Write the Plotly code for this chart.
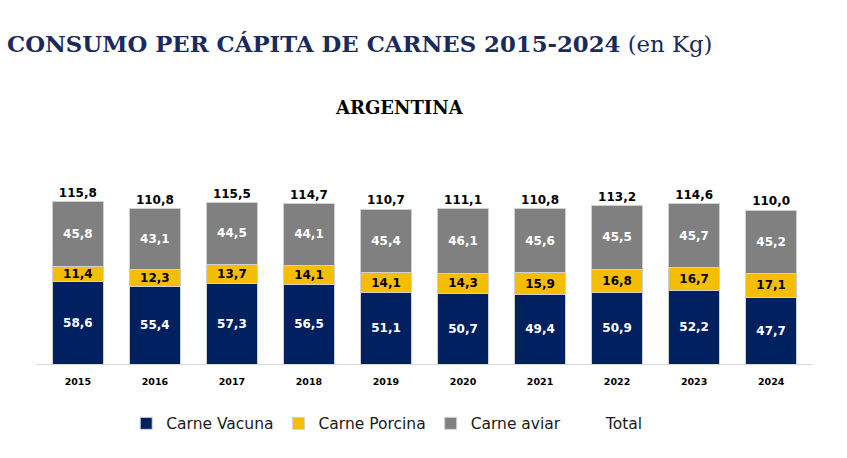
import plotly.graph_objects as go

years = ["2015", "2016", "2017", "2018", "2019", "2020", "2021", "2022", "2023", "2024"]
vacuna = [58.6, 55.4, 57.3, 56.5, 51.1, 50.7, 49.4, 50.9, 52.2, 47.7]
porcina = [11.4, 12.3, 13.7, 14.1, 14.1, 14.3, 15.9, 16.8, 16.7, 17.1]
aviar = [45.8, 43.1, 44.5, 44.1, 45.4, 46.1, 45.6, 45.5, 45.7, 45.2]
total = [115.8, 110.8, 115.5, 114.7, 110.7, 111.1, 110.8, 113.2, 114.6, 110.0]

def fmt(v):
    return f"{v:.1f}".replace(".", ",")

lab_font = "DejaVu Sans"
fig = go.Figure()
series = [
    ("Carne Vacuna", vacuna, "#002060", "white"),
    ("Carne Porcina", porcina, "#F5BE00", "black"),
    ("Carne aviar", aviar, "#808080", "white"),
]
for name, vals, col, tcol in series:
    fig.add_trace(go.Bar(
        x=years, y=vals, name=name,
        marker=dict(color=col, line=dict(color="#d0d0d0", width=1)),
        text=[fmt(v) for v in vals], textposition="inside", insidetextanchor="middle",
        textfont=dict(color=tcol, size=12, family=lab_font, weight="bold"),
        textangle=0, constraintext="none",
    ))

fig.add_trace(go.Scatter(
    x=years, y=total, name="Total", mode="markers+text",
    marker=dict(color="rgba(0,0,0,0)", size=1),
    text=[fmt(v) for v in total], textposition="top center",
    textfont=dict(color="black", size=12, family=lab_font, weight="bold"),
    cliponaxis=False,
))

fig.update_layout(
    barmode="stack", bargap=0.33,
    width=847, height=458,
    paper_bgcolor="white", plot_bgcolor="white",
    margin=dict(l=36, r=34, t=182, b=94),
    showlegend=True,
    legend=dict(orientation="h", x=0.452, xanchor="center", y=-0.235, yanchor="top",
                font=dict(family="DejaVu Sans", size=15.5, color="#1a1a1a"),
                itemwidth=30, traceorder="normal"),
    xaxis=dict(showgrid=False, showline=True, linecolor="#d9d9d9", linewidth=1,
               ticks="", ticklabelstandoff=9,
               tickfont=dict(family=lab_font, size=9.5, color="black", weight="bold")),
    yaxis=dict(visible=False, range=[0, 130], showgrid=False),
    annotations=[
        dict(text="<b>CONSUMO PER CÁPITA DE CARNES 2015-2024</b> (en Kg)",
             xref="paper", yref="paper", x=0, xanchor="left", y=1, yanchor="middle",
             xshift=-31, yshift=182 - 44,
             showarrow=False, font=dict(family="DejaVu Serif", size=22.8, color="#1b2a5c")),
        dict(text="<b>ARGENTINA</b>", xref="paper", yref="paper", x=0.468, y=1,
             yshift=182 - 107, yanchor="middle", showarrow=False,
             font=dict(family="DejaVu Serif", size=18, color="black")),
    ],
)

fig.write_html("out.html")
